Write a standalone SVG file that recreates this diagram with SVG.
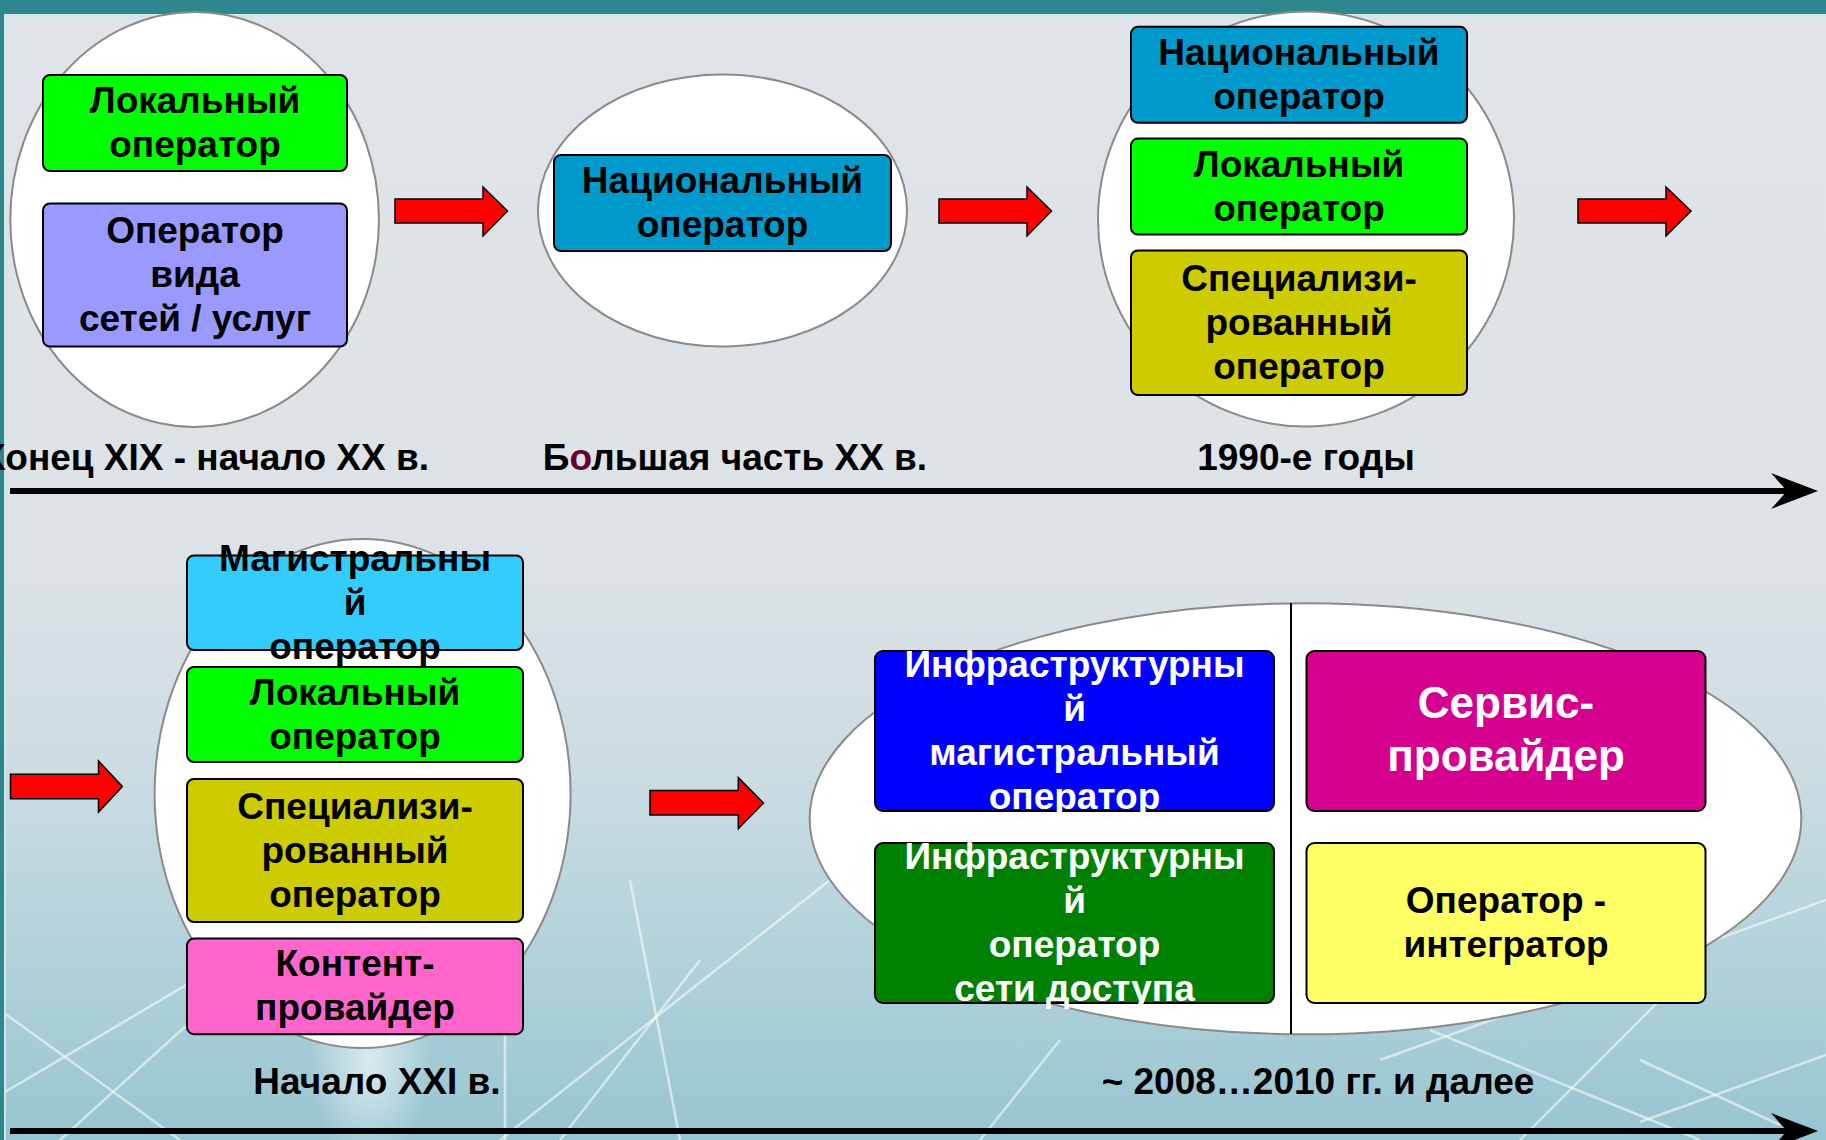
<svg xmlns="http://www.w3.org/2000/svg" width="1826" height="1140" viewBox="0 0 1826 1140">
<defs>
<linearGradient id="bg" x1="0" y1="0" x2="0" y2="1">
<stop offset="0" stop-color="#e0e4e8"/>
<stop offset="0.5" stop-color="#dce2e5"/>
<stop offset="0.68" stop-color="#cbdce2"/>
<stop offset="0.85" stop-color="#b0d1da"/>
<stop offset="1" stop-color="#97c5d1"/>
</linearGradient>
<radialGradient id="glow" cx="0.5" cy="0.5" r="0.5">
<stop offset="0" stop-color="#ffffff" stop-opacity="0.6"/>
<stop offset="1" stop-color="#ffffff" stop-opacity="0"/>
</radialGradient>
<style>
.ell{fill:#fff;stroke:#8a8a8a;stroke-width:2}
.box{stroke:#000;stroke-width:2}
.t{font-family:"Liberation Sans",Arial,sans-serif;font-weight:bold;font-size:37px;text-anchor:middle;fill:#000}
.w{fill:#fff}
.big{font-size:44px}
.lbl{font-family:"Liberation Sans",Arial,sans-serif;font-weight:bold;font-size:37px;fill:#000}
.arr{fill:#ff0000;stroke:#000;stroke-width:1.5}
.axis{stroke:#000;stroke-width:6}
.streak{stroke:#fff;stroke-opacity:0.55;stroke-width:2.5;fill:none}
</style>
</defs>
<rect x="0" y="0" width="1826" height="1140" fill="url(#bg)"/>
<ellipse cx="370" cy="1060" rx="60" ry="110" fill="url(#glow)"/>
<g class="streak">
<line x1="0" y1="1010" x2="180" y2="1140"/>
<line x1="0" y1="1095" x2="330" y2="900"/>
<line x1="60" y1="1140" x2="380" y2="850"/>
<line x1="500" y1="1140" x2="830" y2="880"/>
<line x1="505" y1="1030" x2="505" y2="1140"/>
<line x1="630" y1="880" x2="680" y2="1140"/>
<line x1="560" y1="1140" x2="700" y2="960"/>
<line x1="1380" y1="1060" x2="1826" y2="900"/>
<line x1="1430" y1="1030" x2="1700" y2="1140"/>
<line x1="1640" y1="1060" x2="1780" y2="1125"/>
<line x1="1640" y1="1122" x2="1826" y2="1055"/>
<line x1="1520" y1="1140" x2="1700" y2="960"/>
<line x1="980" y1="1140" x2="1060" y2="1040"/>
</g>
<rect x="0" y="0" width="1826" height="14" fill="#2e878d"/>
<rect x="0" y="14" width="1826" height="3" fill="#cfe6ea"/>
<rect x="0" y="0" width="4" height="1140" fill="#2e878d"/>
<rect x="4" y="14" width="2" height="1126" fill="#cfe6ea"/>

<g id="era1">
<ellipse class="ell" cx="194.6" cy="219.5" rx="184.3" ry="207.5"/>
<g id="n-local1">
<rect class="box" x="43" y="75" width="304" height="96" rx="7" fill="#00ff00"/>
<text class="t" x="195" y="113">Локальный</text>
<text class="t" x="195" y="157">оператор</text>
</g>
<g id="n-type1">
<rect class="box" x="43" y="203.5" width="304" height="143" rx="7" fill="#9999ff"/>
<text class="t" x="195" y="243">Оператор</text>
<text class="t" x="195" y="287">вида</text>
<text class="t" x="195" y="331">сетей / услуг</text>
</g>
</g>

<g id="era2">
<ellipse class="ell" cx="722.5" cy="210.5" rx="184.5" ry="136"/>
<g id="n-nat2">
<rect class="box" x="554" y="155" width="337" height="96" rx="7" fill="#0099cc"/>
<text class="t" x="722.5" y="193">Национальный</text>
<text class="t" x="722.5" y="237">оператор</text>
</g>
</g>

<g id="era3">
<ellipse class="ell" cx="1306" cy="219" rx="208" ry="207.5"/>
<g id="n-nat3">
<rect class="box" x="1131" y="26.8" width="336" height="96" rx="7" fill="#0099cc"/>
<text class="t" x="1299" y="65">Национальный</text>
<text class="t" x="1299" y="109">оператор</text>
</g>
<g id="n-local3">
<rect class="box" x="1131" y="138.6" width="336" height="96" rx="7" fill="#00ff00"/>
<text class="t" x="1299" y="176.6">Локальный</text>
<text class="t" x="1299" y="220.6">оператор</text>
</g>
<g id="n-spec3">
<rect class="box" x="1131" y="250.5" width="336" height="144.5" rx="7" fill="#cccc00"/>
<text class="t" x="1299" y="291">Специализи-</text>
<text class="t" x="1299" y="335">рованный</text>
<text class="t" x="1299" y="379">оператор</text>
</g>
</g>

<g id="era4">
<ellipse class="ell" cx="362.6" cy="793.5" rx="208" ry="254.5"/>
<g id="n-trunk4">
<rect class="box" x="187" y="555.5" width="336" height="94.5" rx="7" fill="#33ccff"/>
<text class="t" x="355" y="570.5">Магистральны</text>
<text class="t" x="355" y="614.5">й</text>
<text class="t" x="355" y="658.5">оператор</text>
</g>
<g id="n-local4">
<rect class="box" x="187" y="667" width="336" height="95" rx="7" fill="#00ff00"/>
<text class="t" x="355" y="704.5">Локальный</text>
<text class="t" x="355" y="748.5">оператор</text>
</g>
<g id="n-spec4">
<rect class="box" x="187" y="779" width="336" height="143" rx="7" fill="#cccc00"/>
<text class="t" x="355" y="818.5">Специализи-</text>
<text class="t" x="355" y="862.5">рованный</text>
<text class="t" x="355" y="906.5">оператор</text>
</g>
<g id="n-content4">
<rect class="box" x="187" y="938.6" width="336" height="95.6" rx="7" fill="#ff66cc"/>
<text class="t" x="355" y="976.4">Контент-</text>
<text class="t" x="355" y="1020.4">провайдер</text>
</g>
</g>

<g id="era5">
<ellipse class="ell" cx="1305.5" cy="818.8" rx="495.8" ry="215.5"/>
<line x1="1291" y1="603" x2="1291" y2="1034" stroke="#000" stroke-width="2"/>
<g id="n-infra-trunk">
<rect class="box" x="875" y="651" width="399" height="160" rx="8" fill="#0000ff"/>
<text class="t w" x="1074.5" y="677">Инфраструктурны</text>
<text class="t w" x="1074.5" y="721">й</text>
<text class="t w" x="1074.5" y="765">магистральный</text>
<text class="t w" x="1074.5" y="809">оператор</text>
</g>
<g id="n-infra-access">
<rect class="box" x="875" y="843" width="399" height="160" rx="8" fill="#008000"/>
<text class="t w" x="1074.5" y="869">Инфраструктурны</text>
<text class="t w" x="1074.5" y="913">й</text>
<text class="t w" x="1074.5" y="957">оператор</text>
<text class="t w" x="1074.5" y="1001">сети доступа</text>
</g>
<g id="n-service">
<rect class="box" x="1306.5" y="651" width="399" height="160" rx="8" fill="#d6008f"/>
<text class="t w big" x="1506" y="718">Сервис-</text>
<text class="t w big" x="1506" y="771">провайдер</text>
</g>
<g id="n-integrator">
<rect class="box" x="1306.5" y="843" width="399" height="160" rx="8" fill="#ffff66"/>
<text class="t" x="1506" y="913">Оператор -</text>
<text class="t" x="1506" y="957">интегратор</text>
</g>
</g>

<g id="labels">
<text class="lbl" x="429" y="470" text-anchor="end">Конец XIX - начало XX в.</text>
<text class="lbl" x="735" y="470" text-anchor="middle">Б<tspan fill="#660033">о</tspan>льшая часть XX в.</text>
<text class="lbl" x="1306" y="470" text-anchor="middle">1990-е годы</text>
<text class="lbl" x="377" y="1094" text-anchor="middle">Начало XXI в.</text>
<text class="lbl" x="1318" y="1094" text-anchor="middle">~ 2008…2010 гг. и далее</text>
</g>

<g id="connectors">
<path class="arr" d="M395,199 H483 V187 L507.5,211 L483,236 V223 H395 Z"/>
<path class="arr" d="M939,199 H1027 V187 L1051.5,211 L1027,236 V223 H939 Z"/>
<path class="arr" d="M1578,199 H1666 V187 L1691,211 L1666,236 V223 H1578 Z"/>
<path class="arr" d="M10.5,774.3 H98.5 V761 L122.4,786.5 L98.5,812 V798.8 H10.5 Z"/>
<path class="arr" d="M650,790.6 H738.3 V777.6 L763.5,803 L738.3,828.6 V815 H650 Z"/>
<line class="axis" x1="10" y1="491" x2="1790" y2="491"/>
<path d="M1818,491 L1771,473 L1787,491 L1771,509 Z" fill="#000"/>
<line class="axis" x1="10" y1="1131" x2="1790" y2="1131"/>
<path d="M1818,1131 L1771,1113 L1787,1131 L1771,1149 Z" fill="#000"/>
</g>
</svg>
